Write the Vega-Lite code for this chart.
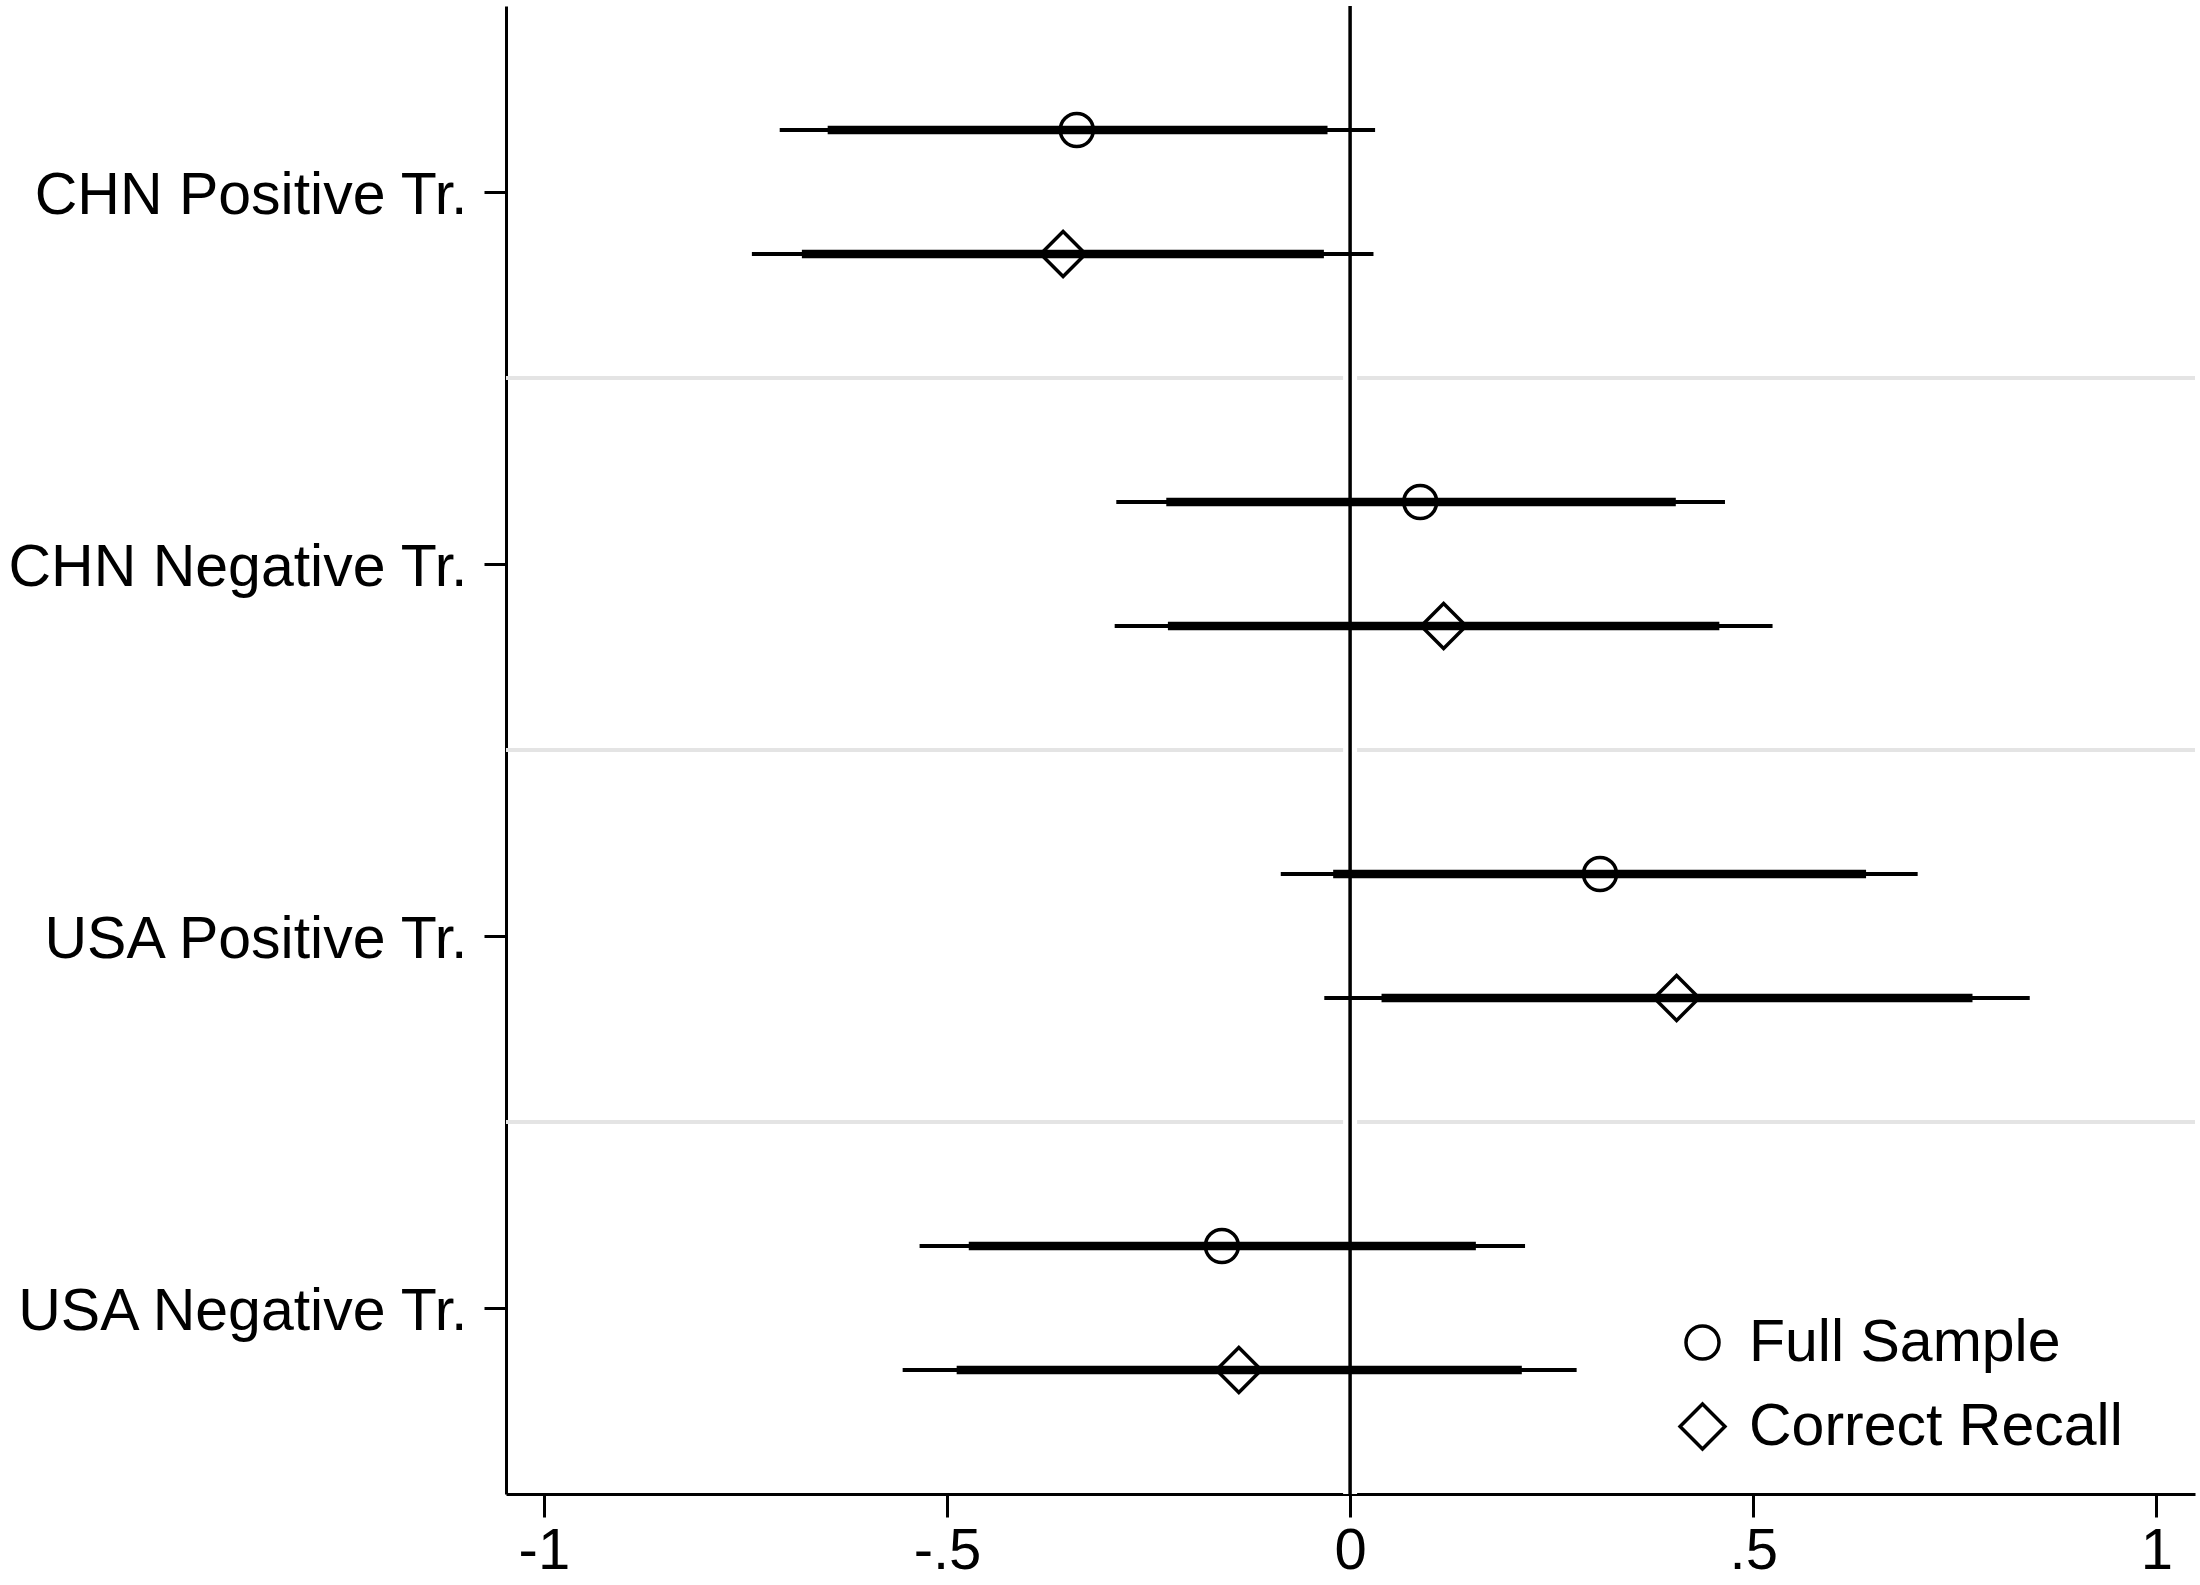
{
  "$schema": "https://vega.github.io/schema/vega-lite/v6.json",
  "autosize": "none",
  "width": 1689,
  "height": 1488,
  "padding": {"left": 506, "top": 6, "right": 5, "bottom": 91},
  "background": "white",
  "config": {
    "view": {"stroke": null},
    "font": "Liberation Sans",
    "axis": {"labelFont": "Liberation Sans", "labelColor": "black", "domainColor": "black", "tickColor": "black"},
    "legend": {"labelFont": "Liberation Sans"}
  },
  "datasets": {
    "est": [
      {"cat": "CHN Positive Tr.", "sample": "Full Sample", "est": -0.339, "lo90": -0.648, "hi90": -0.028, "lo95": -0.7075, "hi95": 0.031},
      {"cat": "CHN Positive Tr.", "sample": "Correct Recall", "est": -0.356, "lo90": -0.680, "hi90": -0.0325, "lo95": -0.742, "hi95": 0.029},
      {"cat": "CHN Negative Tr.", "sample": "Full Sample", "est": 0.087, "lo90": -0.228, "hi90": 0.404, "lo95": -0.290, "hi95": 0.465},
      {"cat": "CHN Negative Tr.", "sample": "Correct Recall", "est": 0.116, "lo90": -0.226, "hi90": 0.458, "lo95": -0.292, "hi95": 0.524},
      {"cat": "USA Positive Tr.", "sample": "Full Sample", "est": 0.310, "lo90": -0.021, "hi90": 0.640, "lo95": -0.086, "hi95": 0.704},
      {"cat": "USA Positive Tr.", "sample": "Correct Recall", "est": 0.405, "lo90": 0.039, "hi90": 0.772, "lo95": -0.032, "hi95": 0.843},
      {"cat": "USA Negative Tr.", "sample": "Full Sample", "est": -0.159, "lo90": -0.473, "hi90": 0.156, "lo95": -0.534, "hi95": 0.217},
      {"cat": "USA Negative Tr.", "sample": "Correct Recall", "est": -0.138, "lo90": -0.488, "hi90": 0.213, "lo95": -0.555, "hi95": 0.281}
    ],
    "sep": [
      {"cat": "CHN Negative Tr."},
      {"cat": "USA Positive Tr."},
      {"cat": "USA Negative Tr."}
    ]
  },
  "layer": [
    {
      "data": {"name": "sep"},
      "mark": {"type": "rule", "color": "#e4e4e4", "strokeWidth": 4},
      "encoding": {
        "y": {
          "field": "cat", "type": "nominal", "bandPosition": 0,
          "sort": ["CHN Positive Tr.", "CHN Negative Tr.", "USA Positive Tr.", "USA Negative Tr."],
          "scale": {"type": "band", "domain": ["CHN Positive Tr.", "CHN Negative Tr.", "USA Positive Tr.", "USA Negative Tr."], "paddingInner": 0, "paddingOuter": 0},
          "axis": {
            "title": null, "labelFontSize": 59, "labelPadding": 17, "tickSize": 22, "tickWidth": 3,
            "domainWidth": 3, "labelLimit": 0, "grid": false, "bandPosition": 0.5, "labelOffset": 4
          }
        }
      }
    },
    {
      "data": {"values": [{}]},
      "mark": {"type": "rule", "color": "white", "strokeWidth": 14},
      "encoding": {"x": {"datum": 0}}
    },
    {
      "data": {"values": [{}]},
      "mark": {"type": "rule", "color": "black", "strokeWidth": 3.5},
      "encoding": {"x": {"datum": 0}}
    },
    {
      "data": {"name": "est"},
      "mark": {"type": "rule", "color": "black", "strokeWidth": 4},
      "encoding": {
        "y": {"field": "cat", "type": "nominal"},
        "yOffset": {"field": "sample", "type": "nominal", "scale": {"type": "band", "domain": ["Full Sample", "Correct Recall"], "paddingInner": 0, "paddingOuter": 0.5}},
        "x": {
          "field": "lo95", "type": "quantitative",
          "scale": {"domain": [-1.047, 1.048], "nice": false, "zero": false},
          "axis": {
            "title": null, "values": [-1, -0.5, 0, 0.5, 1], "grid": false,
            "labelFontSize": 58, "tickSize": 23, "tickWidth": 3, "domainWidth": 3, "labelPadding": 5,
            "labelExpr": "datum.value == -1 ? '-1' : datum.value == -0.5 ? '-.5' : datum.value == 0 ? '0' : datum.value == 0.5 ? '.5' : '1'"
          }
        },
        "x2": {"field": "hi95"}
      }
    },
    {
      "data": {"name": "est"},
      "mark": {"type": "rule", "color": "black", "strokeWidth": 8.5},
      "encoding": {
        "y": {"field": "cat", "type": "nominal"},
        "yOffset": {"field": "sample", "type": "nominal"},
        "x": {"field": "lo90", "type": "quantitative"},
        "x2": {"field": "hi90"}
      }
    },
    {
      "data": {"name": "est"},
      "mark": {"type": "point", "filled": false, "color": "black", "strokeWidth": 3.5, "size": 1089, "opacity": 1},
      "encoding": {
        "y": {"field": "cat", "type": "nominal"},
        "yOffset": {"field": "sample", "type": "nominal"},
        "x": {"field": "est", "type": "quantitative"},
        "shape": {
          "field": "sample", "type": "nominal",
          "scale": {"domain": ["Full Sample", "Correct Recall"], "range": ["circle", "M-1.36,0L0,-1.36L1.36,0L0,1.36Z"]},
          "legend": {
            "title": null, "orient": "none", "legendX": 1167, "legendY": 1307,
            "labelFontSize": 59, "labelOffset": 17, "symbolSize": 1089, "symbolStrokeWidth": 3.5,
            "symbolStrokeColor": "black", "symbolFillColor": "transparent", "symbolType": "circle",
            "rowPadding": 24, "padding": 0, "labelColor": "black", "labelLimit": 0
          }
        }
      }
    }
  ]
}
